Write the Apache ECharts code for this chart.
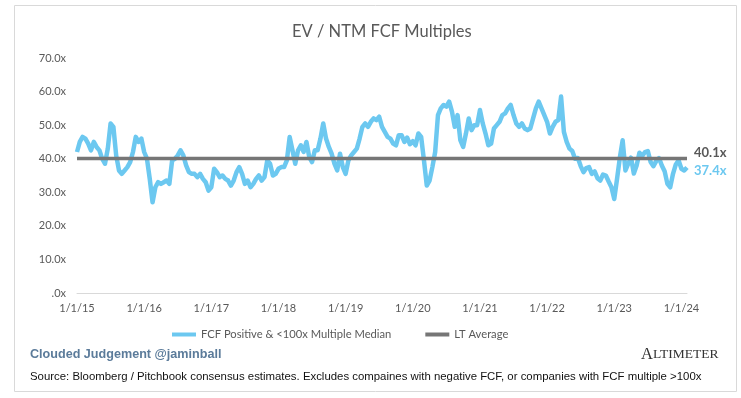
<!DOCTYPE html>
<html>
<head>
<meta charset="utf-8">
<script src="https://cdn.jsdelivr.net/npm/echarts@6/dist/echarts.min.js"></script>
<style>
  html, body { margin: 0; padding: 0; background: #fff; }
  #chart { width: 741px; height: 398px; }
</style>
</head>
<body>
<div id="chart"></div>
<script>
// x axis: months since 1/1/15, one reading every half month
const yearLabels = ['1/1/15', '1/1/16', '1/1/17', '1/1/18', '1/1/19', '1/1/20', '1/1/21', '1/1/22', '1/1/23', '1/1/24'];
const lastMonth = 109; // Feb 2024

// FCF Positive & <100x Multiple Median
const fcf2015to2017 = [42, 45, 46.5, 46, 44.5, 42.5, 45, 43.5, 42.5, 40, 38.5, 43, 50.5, 49.5, 41, 36.5, 35.5, 36.5, 37.5, 39,
  42, 46.5, 45, 46, 42, 40, 34, 27, 31.5, 33, 32.5, 33, 33.5, 32.5, 39.5, 40, 41, 42.5, 41, 38,
  36, 35.5, 35.5, 34.5, 35.5, 34, 33, 30.5, 31.5, 37, 36, 34.5, 35, 34, 33.5];
const fcf2017to2019 = [32, 33.5, 36, 37.5, 35.5, 32.5, 33.5, 31.5, 32.5, 34, 35, 33.5, 34.5, 39.5, 38.5, 35, 35.5, 37, 37.5, 37.5,
  39.5, 46.5, 42.5, 38.5, 42.5, 44, 42, 45, 40.5, 39, 42.5, 42.5, 46, 50.5, 46, 43.5, 41.5, 38.5, 36.5, 41.5,
  37.5, 35.5, 39.5, 41, 42, 43, 46, 49.5, 50.5, 49.5, 51, 52, 51.5, 52.5, 49.5, 48];
const fcf2019to2021 = [46.5, 46, 44.5, 44, 47, 47, 45, 46.3, 44.3, 45.2, 44, 47.5, 46.5, 39.5, 32, 33.5, 37.5, 42, 53, 55,
  56, 55.5, 57, 54, 49.5, 53, 45.5, 43.5, 47.5, 52, 48.5, 50, 50, 54.5, 50.5, 47.5, 44, 44.5, 49, 50,
  51, 53, 53.5, 55, 56, 53, 50.5, 49.5, 50.5, 49, 48.5, 49, 52, 55, 57];
const fcf2021to2024 = [55, 53, 51, 47.5, 49.5, 51, 51.5, 58.5, 48, 45, 43, 42.3, 40, 40.2, 37.8, 36, 37.2, 37.5, 35.5, 36.2,
  34.2, 33.5, 35.3, 35, 33.2, 31.5, 28, 34, 40.3, 45.5, 36.5, 38.5, 40.3, 35.6, 38, 41.8, 40.8, 42, 42.3, 39,
  37.8, 39.3, 40.2, 38, 36.3, 32.5, 31.5, 35.5, 38.3, 39.5, 37, 36.5, 37.4];

const ltAverage = 40.1;

const fcfValues = [].concat(fcf2015to2017, fcf2017to2019, fcf2019to2021, fcf2021to2024);
const fcfData = fcfValues.map((v, i) => [i / 2, v]);
const ltData = [[0, ltAverage], [lastMonth, ltAverage]];

const blue = '#6cc8f0';
const gray = '#767676';
const textGray = '#595959';
const font = 'Lato, "Open Sans", sans-serif';

const chart = echarts.init(document.getElementById('chart'));

chart.setOption({
  animation: false,
  textStyle: { fontFamily: font },
  title: {
    text: 'EV / NTM FCF Multiples',
    left: 287,
    top: 18,
    textStyle: { fontSize: 16.5, fontWeight: 'normal', color: textGray, fontFamily: font }
  },
  grid: { left: 77, right: 54, top: 58, bottom: 105 },
  xAxis: {
    type: 'value',
    min: 0,
    max: lastMonth,
    interval: 12,
    axisLine: { lineStyle: { color: '#d9d9d9', width: 1 } },
    axisTick: { show: false },
    splitLine: { show: false },
    axisLabel: {
      color: textGray,
      fontSize: 11,
      margin: 10,
      formatter: v => (v % 12 === 0 ? yearLabels[v / 12] : '')
    }
  },
  yAxis: {
    type: 'value',
    min: 0,
    max: 70,
    interval: 10,
    axisLine: { show: false },
    axisTick: { show: false },
    splitLine: { show: false },
    axisLabel: {
      color: textGray,
      fontSize: 11,
      margin: 11,
      formatter: v => (v === 0 ? '.0x' : v.toFixed(1) + 'x')
    }
  },
  legend: {
    left: 167,
    top: 324,
    itemGap: 34,
    itemWidth: 24,
    itemHeight: 4,
    icon: 'rect',
    textStyle: { color: textGray, fontSize: 11.2, fontFamily: font },
    data: ['FCF Positive & <100x Multiple Median', 'LT Average']
  },
  series: [
    {
      name: 'FCF Positive & <100x Multiple Median',
      type: 'line',
      data: fcfData,
      showSymbol: false,
      smooth: false,
      itemStyle: { color: blue },
      lineStyle: { color: blue, width: 4.5, join: 'round' },
      endLabel: {
        show: true,
        formatter: p => p.value[1].toFixed(1) + 'x',
        color: blue,
        fontWeight: 'bold',
        fontSize: 13,
        distance: 7,
        offset: [0, 3],
        fontFamily: font
      }
    },
    {
      name: 'LT Average',
      type: 'line',
      data: ltData,
      showSymbol: false,
      itemStyle: { color: gray },
      lineStyle: { color: gray, width: 3.5 },
      endLabel: {
        show: true,
        formatter: p => p.value[1].toFixed(1) + 'x',
        color: textGray,
        fontWeight: 'bold',
        fontSize: 13,
        distance: 7,
        offset: [0, -6],
        fontFamily: font
      }
    }
  ],
  graphic: [
    {
      type: 'rect',
      shape: { x: 14.5, y: 5.5, width: 722, height: 386 },
      style: { fill: 'none', stroke: '#d9d9d9', lineWidth: 1 },
      silent: true
    },
    {
      type: 'text',
      x: 30,
      y: 348,
      style: {
        text: 'Clouded Judgement @jaminball',
        font: 'bold 12.6px "Liberation Sans", Arial, sans-serif',
        fill: '#5b7b9a'
      }
    },
    {
      type: 'text',
      x: 641,
      y: 346,
      style: {
        text: '{a|A}{b|LTIMETER}',
        rich: {
          a: { fontFamily: '"Liberation Serif", serif', fontSize: 16.5, fill: '#333', color: '#333' },
          b: { fontFamily: '"Liberation Serif", serif', fontSize: 13.5, fill: '#333', color: '#333' }
        }
      }
    },
    {
      type: 'text',
      x: 30,
      y: 371,
      style: {
        text: 'Source: Bloomberg / Pitchbook consensus estimates. Excludes compaines with negative FCF, or companies with FCF multiple >100x',
        font: '11.4px "Liberation Sans", Arial, sans-serif',
        fill: '#111'
      }
    }
  ]
});
</script>
</body>
</html>
